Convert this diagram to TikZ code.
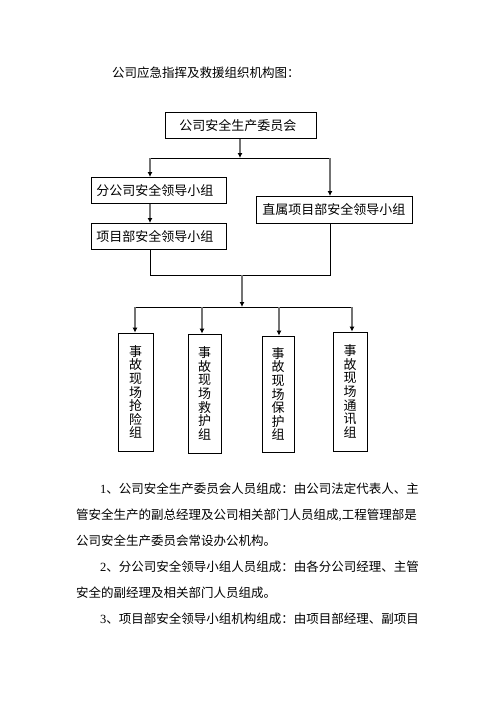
\documentclass[tikz,border=0pt]{standalone}
\usepackage{fontspec}
\setmainfont{Liberation Serif}
\newfontfamily\cjk{Noto Sans CJK SC}
\usetikzlibrary{arrows.meta}
\tikzset{
  box/.style={draw, line width=0.8pt, inner ysep=0pt, font=\cjk\fontsize{13}{13}\selectfont, align=left, anchor=north west},
  vbox/.style={draw, line width=0.8pt, inner sep=0pt, font=\cjk\fontsize{13}{13.6}\selectfont, align=center},
  txt/.style={inner sep=0pt, anchor=west, font=\cjk\fontsize{12.5}{12.5}\selectfont},
  arr/.style={draw=black!55, line width=1.4pt, -{Latex[length=5pt,width=5pt,black]}},
  ln/.style={draw=black, line width=0.8pt},
}
\begin{document}
\begin{tikzpicture}[x=1pt,y=-1pt]
\useasboundingbox[fill=white] (0,0) rectangle (496,702);
\node[txt] (title) at (112,73) {公司应急指挥及救援组织机构图：};
% boxes
\node[box, minimum width=151pt, minimum height=26pt, text width=123pt, inner xsep=14pt] (top) at (165,112) {公司安全生产委员会};
\node[box, minimum width=135pt, minimum height=26pt, text width=125pt, inner xsep=5pt] (fen) at (91,177) {分公司安全领导小组};
\node[box, minimum width=135pt, minimum height=26pt, text width=125pt, inner xsep=5pt] (xm) at (91,223) {项目部安全领导小组};
\node[box, minimum width=156pt, minimum height=27pt, text width=144pt, inner xsep=6pt] (zs) at (256,196) {直属项目部安全领导小组};
\node[vbox, minimum width=35pt, minimum height=118pt] (b1) at (135.5,392) {事\\故\\现\\场\\抢\\险\\组};
\node[vbox, minimum width=33pt, minimum height=119pt] (b2) at (204.5,393.5) {事\\故\\现\\场\\救\\护\\组};
\node[vbox, minimum width=32pt, minimum height=116pt] (b3) at (278,394) {事\\故\\现\\场\\保\\护\\组};
\node[vbox, minimum width=34pt, minimum height=119pt] (b4) at (350,391.5) {事\\故\\现\\场\\通\\讯\\组};
% coordinates
\coordinate (c1) at (240,158);
\coordinate (l1) at (150,158);
\coordinate (r1) at (330,158);
\coordinate (l2) at (150,275);
\coordinate (r2) at (330,275);
\coordinate (m2) at (242,275);
\coordinate (m3) at (242,307);
\coordinate (bl) at (135,307);
\coordinate (br) at (352,307);
% connectors
\draw[ln] (l1) -- (r1);
\draw[arr] (top.south -| c1) -- (c1);
\draw[arr] (l1) -- (fen.north -| l1);
\draw[arr] (r1) -- (zs.north -| r1);
\draw[arr] (fen.south -| l1) -- (xm.north -| l1);
\draw[ln] (xm.south -| l2) -- (l2) -- (r2) -- (zs.south -| r2);
\draw[arr] (m2) -- (m3);
\draw[ln] (bl) -- (br);
\draw[arr] (bl) -- (b1.north -| bl);
\draw[arr] (202,307) -- (b2.north -| 202,0);
\draw[arr] (279,307) -- (b3.north -| 279,0);
\draw[arr] (br) -- (b4.north -| br);
% paragraph
\node[txt] (p1) at (100,489) {{\rmfamily 1}、公司安全生产委员会人员组成：由公司法定代表人、主};
\node[txt] (p2) at (76,515) {管安全生产的副总经理及公司相关部门人员组成{\rmfamily ,}工程管理部是};
\node[txt] (p3) at (76,541) {公司安全生产委员会常设办公机构。};
\node[txt] (p4) at (100,567) {{\rmfamily 2}、分公司安全领导小组人员组成：由各分公司经理、主管};
\node[txt] (p5) at (76,593) {安全的副经理及相关部门人员组成。};
\node[txt] (p6) at (100,619) {{\rmfamily 3}、项目部安全领导小组机构组成：由项目部经理、副项目};
\end{tikzpicture}
\end{document}
